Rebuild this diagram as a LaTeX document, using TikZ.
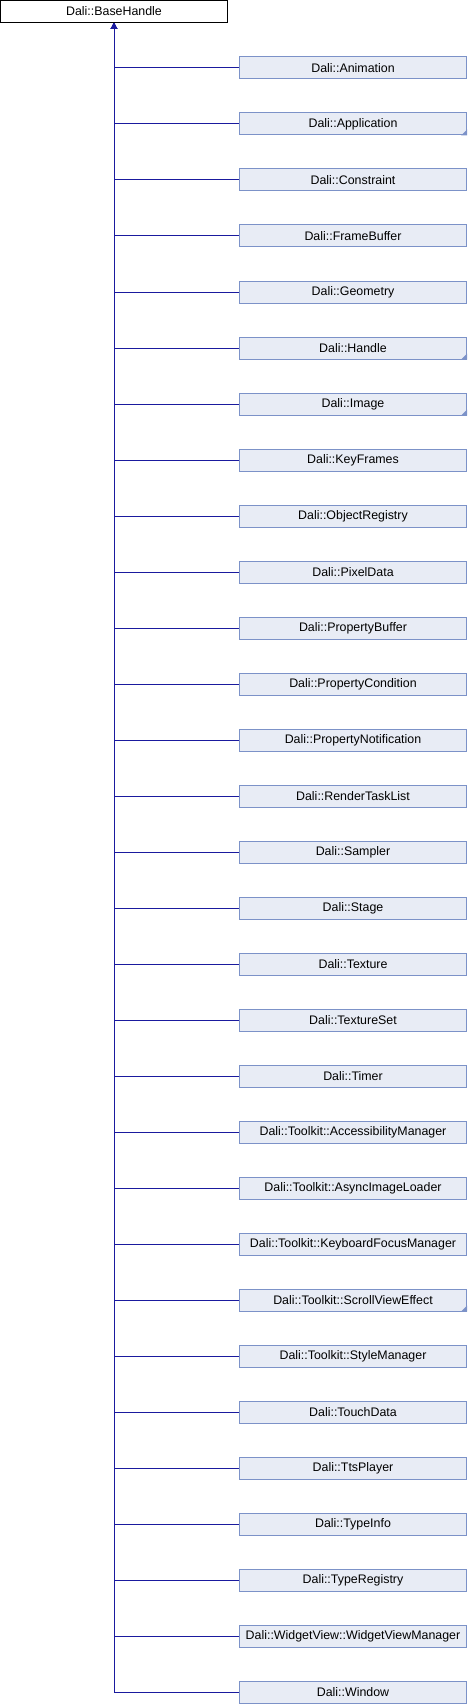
\documentclass[tikz,border=0pt]{standalone}
\usepackage{fontspec}
\setmainfont{Liberation Sans}
\usetikzlibrary{arrows.meta}
\definecolor{edgeblue}{HTML}{1A1A9E}
\definecolor{boxline}{HTML}{7C92C8}
\definecolor{boxfill}{HTML}{E8ECF5}
\tikzset{
  classbox/.style={draw=black,fill=white,line width=1pt,minimum width=227pt,minimum height=22pt,inner sep=0pt,font=\fontsize{12.4}{14}\selectfont},
  childbox/.style={classbox,draw=boxline,fill=boxfill},
  inherit/.style={draw=edgeblue,line width=1pt,{Triangle[length=6pt,width=6pt]}-},
  foldmark/.style={fill=boxline}
}
\begin{document}
\begin{tikzpicture}[x=1pt,y=-1pt]
    \useasboundingbox (0,0) rectangle (468,1704);

    \node[classbox] (base) at (114,11.5) {Dali::BaseHandle};

    \foreach \cname/\fold [count=\i from 0] in {Animation/0, Application/1, Constraint/0, FrameBuffer/0,
        Geometry/0, Handle/1, Image/1, KeyFrames/0, ObjectRegistry/0, PixelData/0, PropertyBuffer/0,
        PropertyCondition/0, PropertyNotification/0, RenderTaskList/0, Sampler/0, Stage/0, Texture/0,
        TextureSet/0, Timer/0, Toolkit::AccessibilityManager/0, Toolkit::AsyncImageLoader/0,
        Toolkit::KeyboardFocusManager/0, Toolkit::ScrollViewEffect/1, Toolkit::StyleManager/0,
        TouchData/0, TtsPlayer/0, TypeInfo/0, TypeRegistry/0, WidgetView::WidgetViewManager/0, Window/0}
    {
        \node[childbox] (c\i) at (353,68+56*\i) {Dali::\cname};
        \draw[inherit] (base.south) |- (c\i.west);
        \ifnum\fold=1
            \fill[foldmark] (c\i.south east) -- ++(-6,0) -- ++(6,-6) -- cycle;
        \fi
    }
\end{tikzpicture}
\end{document}
